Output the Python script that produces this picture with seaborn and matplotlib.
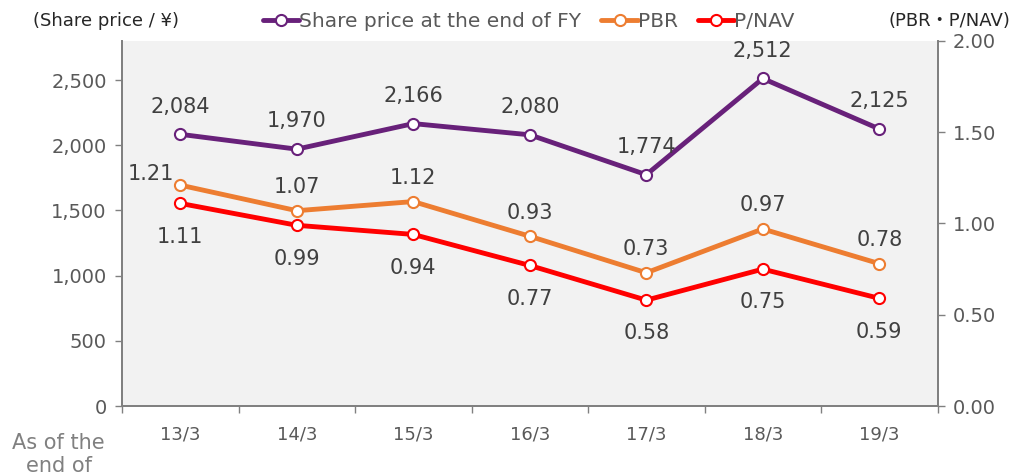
import numpy as np
import pandas as pd
import seaborn as sns
import matplotlib.pyplot as plt

## Datos
periodos = ['13/3', '14/3', '15/3', '16/3', '17/3', '18/3', '19/3']
precio = [2084, 1970, 2166, 2080, 1774, 2512, 2125]
pbr = [1.21, 1.07, 1.12, 0.93, 0.73, 0.97, 0.78]
p_nav = [1.11, 0.99, 0.94, 0.77, 0.58, 0.75, 0.59]

morado = '#68217a'
naranja = '#ed7d31'
rojo = '#ff0000'
gris_texto = '#595959'

sns.set_theme(style='white')
plt.rcParams['font.family'] = ['DejaVu Sans']

df = pd.DataFrame({'periodo': periodos, 'precio': precio, 'pbr': pbr, 'p_nav': p_nav})
x = np.arange(len(periodos))
df['x'] = x

fig = plt.figure(figsize=(10.13, 4.76), dpi=100)
ax = fig.add_axes([0.1205, 0.147, 0.805, 0.767])
ax2 = ax.twinx()

ax.set_facecolor('#f2f2f2')
ax.set_zorder(1)
ax2.set_zorder(2)
ax2.patch.set_visible(False)

estilo_marcador = dict(marker='o', markersize=8, markerfacecolor='white', markeredgewidth=1.5, linewidth=3.5)

# precio en el eje izquierdo, PBR y P/NAV en el derecho
sns.lineplot(data=df, x='x', y='precio', ax=ax, color=morado, markeredgecolor=morado,
             label='Share price at the end of FY', legend=False, **estilo_marcador)
sns.lineplot(data=df, x='x', y='pbr', ax=ax2, color=naranja, markeredgecolor=naranja,
             label='PBR', legend=False, **estilo_marcador)
sns.lineplot(data=df, x='x', y='p_nav', ax=ax2, color=rojo, markeredgecolor=rojo,
             label='P/NAV', legend=False, **estilo_marcador)

ax.set_ylim(0, 2800)
ax2.set_ylim(0, 2.0)
ax.set_xlim(-0.5, len(periodos) - 0.5)
ax.set_yticks(range(0, 2501, 500))
ax.set_yticklabels([f'{v:,}' for v in range(0, 2501, 500)])
ax2.set_yticks([0, 0.5, 1.0, 1.5, 2.0])
ax2.set_yticklabels(['0.00', '0.50', '1.00', '1.50', '2.00'])

ax.set_xticks(x)
ax.set_xticklabels(periodos)
ax.set_xticks(np.arange(-0.5, len(periodos)), minor=True)
ax.tick_params(axis='x', which='major', length=0, pad=14, labelsize=13, labelcolor=gris_texto)
ax.tick_params(axis='x', which='minor', length=5, width=1, color='#808080', direction='out', bottom=True)
ax.tick_params(axis='y', length=5, width=1, color='#808080', direction='out', left=True,
               labelsize=14, labelcolor=gris_texto, pad=6)
ax2.tick_params(axis='y', length=5, width=1, color='#808080', direction='out', right=True,
                labelsize=14, labelcolor=gris_texto, pad=6)
ax.set_xlabel('')
ax.set_ylabel('')
ax2.set_ylabel('')

for a in (ax, ax2):
    for lado in ('left', 'right', 'bottom'):
        a.spines[lado].set_color('#808080')
        a.spines[lado].set_linewidth(1.3)
    a.spines['top'].set_visible(False)

## Etiquetas de datos
color_etiqueta = '#404040'
for i, v in enumerate(precio):
    ax.annotate(f'{v:,}', (i, v), xytext=(0, 20), textcoords='offset points',
                ha='center', va='center', fontsize=15, color=color_etiqueta, zorder=5)
for i, v in enumerate(pbr):
    if i == 0:
        ax2.annotate(f'{v:.2f}', (i, v), xytext=(-21, 8), textcoords='offset points',
                     ha='center', va='center', fontsize=15, color=color_etiqueta)
    else:
        ax2.annotate(f'{v:.2f}', (i, v), xytext=(0, 17), textcoords='offset points',
                     ha='center', va='center', fontsize=15, color=color_etiqueta)
for i, v in enumerate(p_nav):
    ax2.annotate(f'{v:.2f}', (i, v), xytext=(0, -24), textcoords='offset points',
                 ha='center', va='center', fontsize=15, color=color_etiqueta)

## Leyenda
lineas = ax.get_lines() + ax2.get_lines()
etiquetas = [l.get_label() for l in lineas]
fig.legend(lineas, etiquetas, loc='center', bbox_to_anchor=(0.522, 0.955), ncol=3, frameon=False,
           fontsize=14.5, handlelength=1.8, handletextpad=0.0, columnspacing=1.0, labelcolor=gris_texto,
           borderaxespad=0, borderpad=0)

fig.text(0.033, 0.955, '(Share price / ¥)', ha='left', va='center', fontsize=13, color='#262626')
fig.text(0.997, 0.955, '(PBR・P/NAV)', ha='right', va='center', fontsize=13, color='#262626',
         family=['DejaVu Sans', 'Noto Sans CJK JP'])
fig.text(0.058, 0.045, 'As of the\nend of', ha='center', va='center', fontsize=15, color='#808080',
         linespacing=1.15)

plt.savefig('out.png', dpi=100)
